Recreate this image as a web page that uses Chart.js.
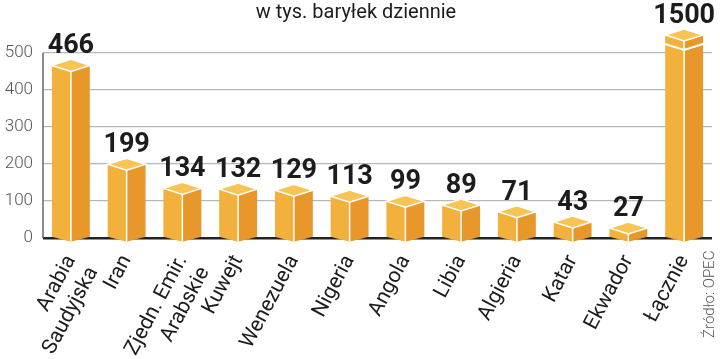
<!DOCTYPE html>
<html>
<head>
<meta charset="utf-8">
<script src="https://cdn.jsdelivr.net/npm/chart.js@4/dist/chart.umd.min.js"></script>
<style>
  html, body { margin: 0; padding: 0; background: #fff; }
  #wrap { width: 720px; height: 359px; }
</style>
</head>
<body>
<div id="wrap"><canvas id="mycanvas"></canvas></div>
<script>
// countries (x axis)
var categories = [['Arabia', 'Saudyjska'], 'Iran', ['Zjedn. Emir.', 'Arabskie'], 'Kuwejt', 'Wenezuela',
  'Nigeria', 'Angola', 'Libia', 'Algieria', 'Katar', 'Ekwador', 'Łącznie'];
// thousand barrels per day
var values = [466, 199, 134, 132, 129, 113, 99, 89, 71, 43, 27, 1500];
var yTicks = [0, 100, 200, 300, 400, 500];

var LEFT = '#f1b13c', RIGHT = '#e8972b', TOP = '#f7c455';

// draws each bar as a little box, using the bar elements from chart.js
var prism = {
  id: 'prism',
  beforeDatasetsDraw: function(chart) {
    var ctx = chart.ctx, area = chart.chartArea, y = chart.scales.y;
    ctx.save();
    ctx.strokeStyle = '#666';
    ctx.lineWidth = 1.5;
    ctx.beginPath();
    ctx.moveTo(area.left, y.getPixelForValue(yTicks[yTicks.length - 1]));
    ctx.lineTo(area.left, y.getPixelForValue(0));
    ctx.stroke();
    ctx.restore();
  },
  afterDatasetsDraw: function(chart) {
    var ctx = chart.ctx, area = chart.chartArea;
    var meta = chart.getDatasetMeta(0);
    ctx.save();
    meta.data.forEach(function(el, i) {
      var c = el.x, hw = el.width / 2, base = el.base;
      var cut = el.y < area.top;
      var yv = Math.max(el.y, area.top);
      var d = 6, dip = 5;
      // left face
      ctx.fillStyle = LEFT;
      ctx.beginPath();
      ctx.moveTo(c - hw, yv); ctx.lineTo(c, yv + d); ctx.lineTo(c, base + dip); ctx.lineTo(c - hw, base);
      ctx.closePath(); ctx.fill();
      // right face
      ctx.fillStyle = RIGHT;
      ctx.beginPath();
      ctx.moveTo(c, yv + d); ctx.lineTo(c + hw, yv); ctx.lineTo(c + hw, base); ctx.lineTo(c, base + dip);
      ctx.closePath(); ctx.fill();
      // middle edge
      ctx.strokeStyle = '#fff';
      ctx.lineWidth = 1.5;
      ctx.beginPath();
      ctx.moveTo(c, yv + d); ctx.lineTo(c, base + dip);
      ctx.stroke();
      // top
      ctx.fillStyle = TOP;
      ctx.beginPath();
      ctx.moveTo(c - hw, yv); ctx.lineTo(c, yv - d); ctx.lineTo(c + hw, yv); ctx.lineTo(c, yv + d);
      ctx.closePath(); ctx.fill(); ctx.stroke();
      // break mark for the clipped total
      if (cut) {
        ctx.lineWidth = 2;
        ctx.beginPath();
        ctx.moveTo(c - hw, yv + 9); ctx.lineTo(c, yv + 9 + d); ctx.lineTo(c + hw, yv + 9);
        ctx.stroke();
      }
      // value
      ctx.fillStyle = '#1c1c1c';
      ctx.font = 'bold 27px Roboto, "Open Sans", sans-serif';
      ctx.textAlign = 'center';
      ctx.textBaseline = 'alphabetic';
      ctx.fillText(String(values[i]), c, yv - d - 6);
    });
    ctx.restore();
  },
  afterDraw: function(chart) {
    var ctx = chart.ctx;
    ctx.save();
    ctx.translate(710, 338);
    ctx.rotate(-Math.PI / 2);
    ctx.fillStyle = '#555';
    ctx.font = '300 15px Roboto, sans-serif';
    ctx.textAlign = 'left';
    ctx.textBaseline = 'middle';
    ctx.fillText('Źródło: OPEC', 0, 0);
    ctx.restore();
  }
};

var ctx = document.getElementById('mycanvas').getContext('2d');
var barGraph = new Chart(ctx, {
  type: 'bar',
  data: {
    labels: categories,
    datasets: [{
      data: values,
      backgroundColor: 'rgba(0,0,0,0)',
      categoryPercentage: 1,
      barPercentage: 0.68
    }]
  },
  options: {
    responsive: true,
    maintainAspectRatio: false,
    animation: false,
    layout: { padding: { left: 0, right: 8, top: 0, bottom: 0 } },
    plugins: {
      legend: { display: false },
      tooltip: { enabled: false },
      title: {
        display: true,
        text: 'w tys. baryłek dziennie',
        color: '#1c1c1c',
        font: { family: 'Roboto', size: 20, weight: '400' },
        padding: { top: 1, bottom: 10 }
      }
    },
    scales: {
      x: {
        grid: { display: false },
        border: { display: false },
        ticks: {
          autoSkip: false,
          maxRotation: 62,
          minRotation: 62,
          padding: 5,
          color: '#1c1c1c',
          font: { family: 'Roboto', size: 21 }
        },
        afterFit: function(scale) { scale.height = 121; }
      },
      y: {
        min: 0,
        max: 548,
        afterBuildTicks: function(scale) {
          scale.ticks = yTicks.map(function(v) { return { value: v }; });
        },
        border: { display: false },
        grid: {
          drawTicks: false,
          color: function(c) { return c.tick && c.tick.value === 0 ? '#222' : '#b8b8b8'; },
          lineWidth: function(c) { return c.tick && c.tick.value === 0 ? 2.5 : 1.2; }
        },
        ticks: {
          padding: 10,
          color: '#555',
          font: { family: 'Roboto', size: 17, weight: '300' }
        },
        afterFit: function(scale) { scale.width = 43; }
      }
    }
  },
  plugins: [prism]
});
</script>
</body>
</html>
